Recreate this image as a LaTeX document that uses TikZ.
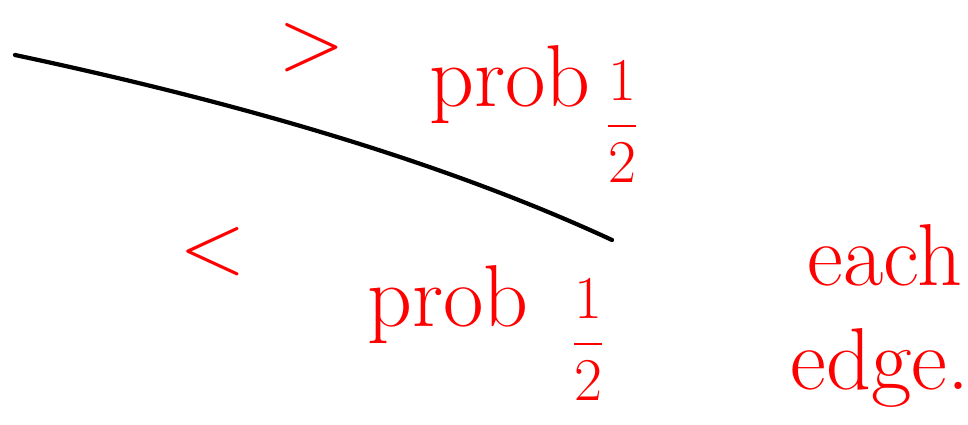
\documentclass[tikz,border=0pt]{standalone}
\usepackage{amsmath}
\usepackage{xcolor}
\usepackage{tikz}
\usetikzlibrary{positioning}
\definecolor{inkred}{RGB}{255, 0, 0}
\definecolor{inkblack}{RGB}{0, 0, 0}

\begin{document}
\begin{tikzpicture}[x=0.01cm, y=-0.01cm,
    ink/.style={text=inkred, font=\fontsize{25}{27}\selectfont, inner sep=0pt},
    frac/.style={text=inkred, font=\fontsize{18}{19}\selectfont, inner sep=0pt}]
    \useasboundingbox (0,0) rectangle (968,425);
    % the edge
    \draw[inkblack, line width=1.2pt, line cap=round] (15,55) .. controls (250,105) and (450,165) .. (612,240);
    % upper direction
    \node[ink] (gt) at (312,48) {$>$};
    \node[ink] (probup) at (510,85) {prob};
    \node[frac] (halfup) at (622,122) {$\dfrac{1}{2}$};
    % lower direction
    \node[ink] (lt) at (213,252) {$<$};
    \node[ink] (probdown) at (448,305) {prob};
    \node[frac] (halfdown) at (588,340) {$\dfrac{1}{2}$};
    % remark
    \node[ink] (each) at (885,255) {each};
    \node[ink] (edge) at (880,368) {edge.};
\end{tikzpicture}
\end{document}
